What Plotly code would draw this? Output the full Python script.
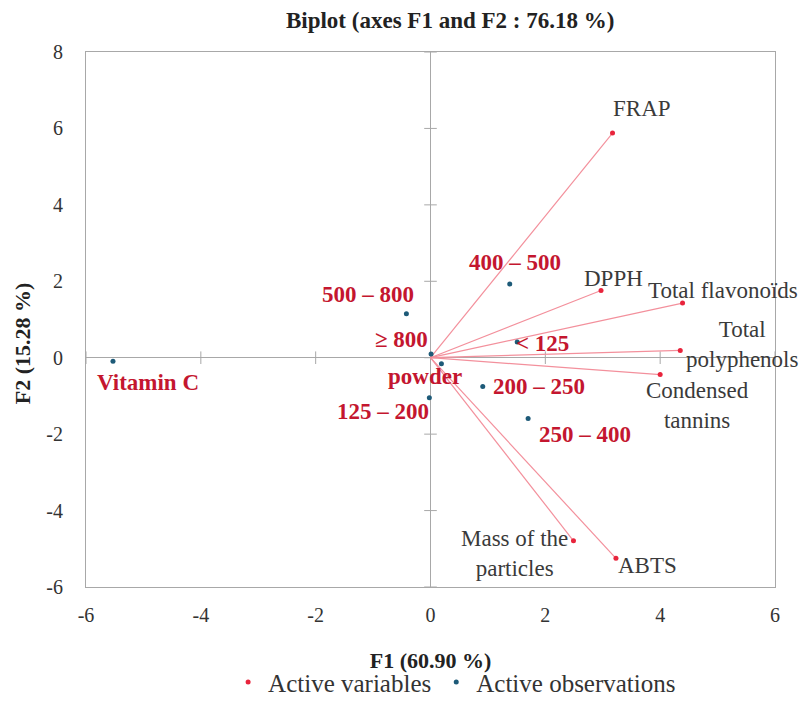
import plotly.graph_objects as go

# ---- data ----
obs_names = ["Vitamin C", "500 – 800", "≥ 800", "powder", "125 – 200",
             "400 – 500", "< 125", "200 – 250", "250 – 400"]
obs_f1 = [-5.53, -0.42, 0.01, 0.19, -0.02, 1.38, 1.51, 0.91, 1.70]
obs_f2 = [-0.09, 1.15, 0.10, -0.16, -1.05, 1.93, 0.41, -0.75, -1.59]

var_names = ["FRAP", "DPPH", "Total flavonoïds", "Total<br>polyphenols",
             "Condensed<br>tannins", "Mass of the<br>particles", "ABTS"]
var_f1 = [3.17, 2.97, 4.39, 4.35, 4.00, 2.49, 3.23]
var_f2 = [5.88, 1.76, 1.43, 0.19, -0.44, -4.79, -5.25]

x_ticks = [-6, -4, -2, 0, 2, 4, 6]
y_ticks = [-6, -4, -2, 0, 2, 4, 6, 8]

# ---- label offsets (pixels, style) ----
obs_dx = [35, -38, -30, -16, -46, 5, 25, 56, 57]
obs_dy = [-21, 19, 14, -13, -14, 21, -1, 0, -16]
var_dx = [29, 12, 40, 62, 37, -59, 32]
var_dy = [25, 12, 13, 6, -31, -13, -7]

SERIF = "Liberation Serif, Times New Roman, serif"
AXIS_GRAY = "#a8a8a8"
RED_PT = "#e8243c"
RED_LINE = "#f3909c"
RED_TXT = "#c4162f"
BLUE = "#1d5a78"

fig = go.Figure()

# tick marks on the zero axes
fig.add_trace(go.Scatter(
    x=x_ticks, y=[0] * len(x_ticks), mode="markers",
    marker=dict(symbol="line-ns", size=9, line=dict(color=AXIS_GRAY, width=1)),
    showlegend=False, hoverinfo="skip", cliponaxis=False))
fig.add_trace(go.Scatter(
    x=[0] * len(y_ticks), y=y_ticks, mode="markers",
    marker=dict(symbol="line-ew", size=9, line=dict(color=AXIS_GRAY, width=1)),
    showlegend=False, hoverinfo="skip", cliponaxis=False))

# vectors from origin
lx, ly = [], []
for a, b in zip(var_f1, var_f2):
    lx += [0, a, None]
    ly += [0, b, None]
fig.add_trace(go.Scatter(x=lx, y=ly, mode="lines",
                         line=dict(color=RED_LINE, width=1.2),
                         showlegend=False, hoverinfo="skip"))

fig.add_trace(go.Scatter(x=var_f1, y=var_f2, mode="markers", name="Active variables",
                         marker=dict(color=RED_PT, size=5)))
fig.add_trace(go.Scatter(x=obs_f1, y=obs_f2, mode="markers", name="Active observations",
                         marker=dict(color=BLUE, size=5)))

for n, a, b, dx, dy in zip(var_names, var_f1, var_f2, var_dx, var_dy):
    fig.add_annotation(x=a, y=b, text=n, showarrow=False, xshift=dx, yshift=dy,
                       align="center",
                       font=dict(family=SERIF, size=23, color="#3a3a3a"))
for n, a, b, dx, dy in zip(obs_names, obs_f1, obs_f2, obs_dx, obs_dy):
    fig.add_annotation(x=a, y=b, text="<b>" + n + "</b>", showarrow=False,
                       xshift=dx, yshift=dy, align="center",
                       font=dict(family=SERIF, size=23, color=RED_TXT))

# y-axis title (placed slightly below the axis centre, as in the reference)
fig.add_annotation(xref="paper", yref="paper", x=-0.092, y=0.455,
                   xanchor="center", yanchor="middle", textangle=-90,
                   text="<b>F2 (15.28 %)</b>", showarrow=False,
                   font=dict(family=SERIF, size=22, color="#222222"))

fig.update_layout(
    width=801, height=702,
    margin=dict(l=86, r=26, t=52, b=115, autoexpand=False),
    paper_bgcolor="white", plot_bgcolor="white",
    font=dict(family=SERIF, color="#333333"),
    title=dict(text="<b>Biplot (axes F1 and F2 : 76.18 %)</b>",
               x=0.562, xanchor="center", y=0.972, yanchor="middle",
               yref="container", font=dict(family=SERIF, size=23, color="#222222")),
    showlegend=True,
    legend=dict(orientation="h", x=0.535, xanchor="center", y=-0.178, yanchor="middle",
                font=dict(family=SERIF, size=25, color="#333333"),
                bgcolor="rgba(0,0,0,0)",
                itemsizing="trace", tracegroupgap=0, itemwidth=30),
    xaxis=dict(range=[-6, 6], tickvals=x_ticks, ticktext=[str(v) for v in x_ticks],
               showgrid=False, automargin=False,
               zeroline=True, zerolinecolor=AXIS_GRAY, zerolinewidth=1,
               showline=True, mirror=True, linecolor=AXIS_GRAY, linewidth=1,
               ticks="", ticklabelstandoff=10,
               tickfont=dict(family=SERIF, size=20, color="#333333"),
               title=dict(text="<b>F1 (60.90 %)</b>", standoff=27,
                          font=dict(family=SERIF, size=22, color="#222222"))),
    yaxis=dict(range=[-6, 8], tickvals=y_ticks, ticktext=[str(v) for v in y_ticks],
               showgrid=False, automargin=False,
               zeroline=True, zerolinecolor=AXIS_GRAY, zerolinewidth=1,
               showline=True, mirror=True, linecolor=AXIS_GRAY, linewidth=1,
               ticks="", ticklabelstandoff=18,
               tickfont=dict(family=SERIF, size=20, color="#333333")),
)

fig.write_html("out.html")
